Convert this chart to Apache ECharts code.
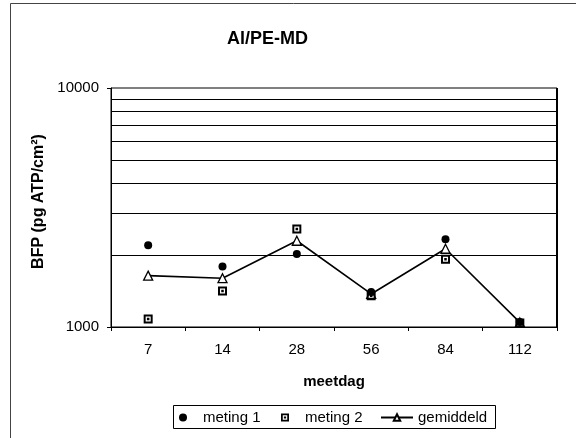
<!DOCTYPE html>
<html>
<head>
<meta charset="utf-8">
<script src="https://cdn.jsdelivr.net/npm/echarts@6/dist/echarts.min.js"></script>
<style>
  html, body { margin: 0; padding: 0; background: #fff; }
  #chart { width: 576px; height: 438px; }
</style>
</head>
<body>
<div id="chart"></div>
<script>
// Measurement days and BFP values (pg ATP/cm²)
const categories = ['7', '14', '28', '56', '84', '112'];
const meting1 = [2200, 1790, 2020, 1400, 2330, 1050];
const meting2 = [1080, 1415, 2570, 1350, 1920, 1040];
const gemiddeld = [1640, 1600, 2295, 1375, 2125, 1045];
// Horizontal grid lines inside the decade
const gridValues = [2000, 3000, 4000, 5000, 6000, 7000, 8000, 9000];

const FONT = 'Liberation Sans';
// Black square with a white inset and a centre dot
const squareDot = 'path://M0,0H10V10H0Z M2.2,2.2V7.8H7.8V2.2Z M3.6,3.6H6.4V6.4H3.6Z';

const chart = echarts.init(document.getElementById('chart'), null, { renderer: 'canvas' });

const legendText = { fontFamily: FONT, fontSize: 15, color: '#000' };

chart.setOption({
  animation: false,
  backgroundColor: '#fff',
  textStyle: { fontFamily: FONT },
  title: {
    text: 'Al/PE-MD',
    left: 222,
    top: 25,
    textStyle: { fontFamily: FONT, fontSize: 18, fontWeight: 'bold', color: '#000' }
  },
  graphic: [
    {
      type: 'rect',
      shape: { x: 10.5, y: 3.5, width: 620, height: 500 },
      style: { fill: null, stroke: '#444', lineWidth: 1 },
      silent: true
    },
    {
      type: 'rect',
      shape: { x: 173.5, y: 405.5, width: 322, height: 23 },
      style: { fill: null, stroke: '#000', lineWidth: 1 },
      silent: true
    },
    {
      // Right edge of the plot frame
      type: 'line',
      shape: { x1: 557, y1: 88, x2: 557, y2: 327 },
      style: { stroke: '#000', lineWidth: 2 },
      z: 10,
      silent: true
    }
  ],
  legend: [
    {
      data: ['meting 1'], left: 179, top: 410, padding: 0,
      itemWidth: 30, itemHeight: 8, itemGap: 5, textStyle: legendText
    },
    {
      data: ['meting 2'], left: 281, top: 410, padding: 0,
      itemWidth: 30, itemHeight: 8, itemGap: 5, textStyle: legendText
    },
    {
      data: ['gemiddeld'], left: 380, top: 410, padding: 0,
      itemWidth: 32, itemHeight: 8, itemGap: 6, textStyle: legendText
    }
  ],
  grid: {
    left: 111, right: 19, top: 88, bottom: 111,
    show: true, borderColor: '#000', borderWidth: 1, backgroundColor: 'transparent'
  },
  xAxis: [
    {
      type: 'category',
      data: categories,
      boundaryGap: true,
      name: 'meetdag',
      nameLocation: 'middle',
      nameGap: 47,
      nameTextStyle: { fontFamily: FONT, fontSize: 15, fontWeight: 'bold', color: '#000' },
      axisLine: { lineStyle: { color: '#000', width: 1 } },
      axisTick: { show: true, length: 4, lineStyle: { color: '#000' } },
      axisLabel: { fontFamily: FONT, fontSize: 15, color: '#000', margin: 15 },
      splitLine: { show: false }
    }
  ],
  yAxis: [
    {
      type: 'log',
      logBase: 10,
      min: 1000,
      max: 10000,
      name: 'BFP (pg ATP/cm²)',
      nameLocation: 'middle',
      nameRotate: 90,
      nameGap: 62,
      nameTextStyle: {
        fontFamily: FONT, fontSize: 16, fontWeight: 'bold', color: '#000',
        padding: [0, 0, 0, 12]
      },
      axisLine: { show: true, lineStyle: { color: '#000', width: 1 } },
      axisTick: { show: true, length: 4, lineStyle: { color: '#000' } },
      axisLabel: {
        fontFamily: FONT, fontSize: 15, color: '#000', margin: 12,
        formatter: v => String(Math.round(v))
      },
      splitLine: { show: false }
    }
  ],
  series: [
    {
      name: 'gemiddeld',
      type: 'line',
      data: gemiddeld,
      z: 2,
      symbol: 'triangle',
      symbolSize: 9,
      showAllSymbol: true,
      lineStyle: { color: '#000', width: 1.6 },
      itemStyle: { color: '#fff', borderColor: '#000', borderWidth: 1.3 },
      markLine: {
        silent: true,
        symbol: ['none', 'none'],
        label: { show: false },
        lineStyle: { color: '#000', width: 1, type: 'solid' },
        animation: false,
        data: gridValues.map(v => ({ yAxis: v }))
      }
    },
    {
      name: 'meting 1',
      type: 'scatter',
      data: meting1,
      z: 3,
      symbol: 'circle',
      symbolSize: 8,
      itemStyle: { color: '#000', opacity: 1 }
    },
    {
      name: 'meting 2',
      type: 'scatter',
      data: meting2,
      z: 4,
      symbol: squareDot,
      symbolSize: 9,
      itemStyle: { color: '#000', opacity: 1 }
    }
  ]
});
</script>
</body>
</html>
